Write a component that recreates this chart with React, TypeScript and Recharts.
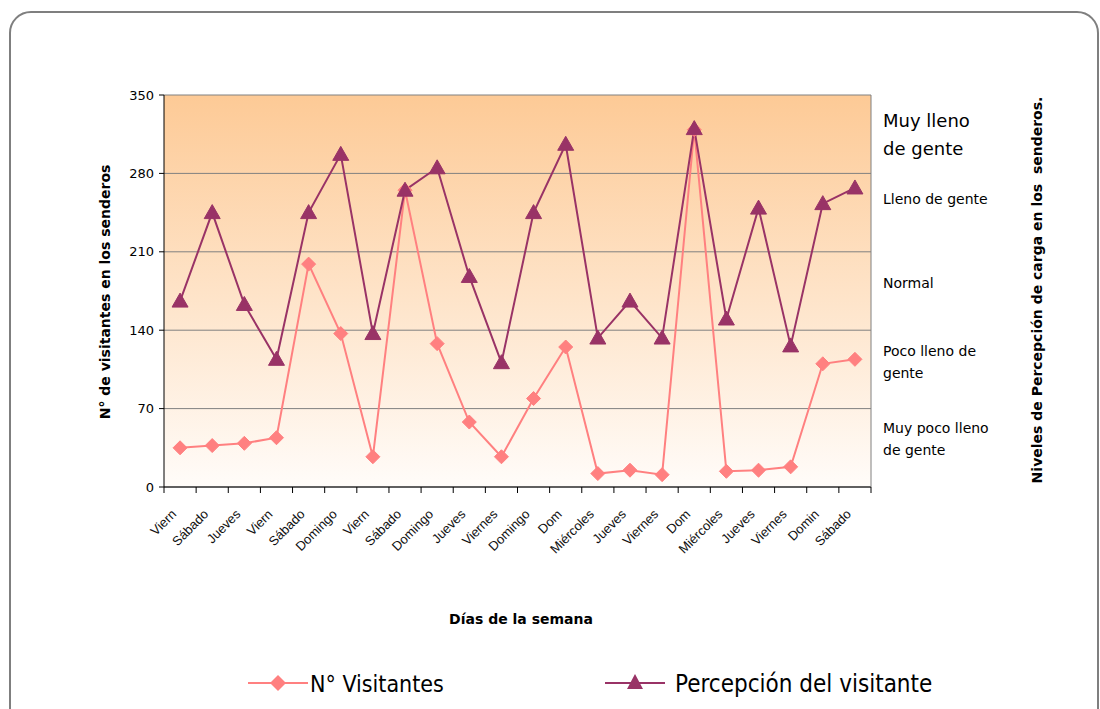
import React from "react";
import { LineChart, Line, XAxis, YAxis, CartesianGrid } from "recharts";

// días (etiquetas tal como se ven en el gráfico)
const dias = [
  "Viern", "Sábado", "Jueves", "Viern", "Sábado", "Domingo", "Viern", "Sábado",
  "Domingo", "Jueves", "Viernes", "Domingo", "Dom", "Miércoles", "Jueves", "Viernes",
  "Dom", "Miércoles", "Jueves", "Viernes", "Domin", "Sábado",
];
const visitantes = [35, 37, 39, 44, 199, 137, 27, 265, 128, 58, 27, 79, 125, 12, 15, 11, 319, 14, 15, 18, 110, 114];
const percepcion = [166, 245, 163, 114, 245, 297, 137, 265, 285, 188, 111, 245, 306, 133, 166, 133, 320, 150, 249, 126, 253, 267];

const ticksVisitantes = [0, 70, 140, 210, 280, 350];
const nivelesValores = [315, 257, 182, 112, 43];
const nivelesTexto = [
  ["Muy lleno", "de gente"],
  ["Lleno de gente"],
  ["Normal"],
  ["Poco lleno de", "gente"],
  ["Muy poco lleno", "de gente"],
];

const data = dias.map((dia, i) => ({ dia, visitantes: visitantes[i], percepcion: percepcion[i] }));

const ROSA = "#FF8080";
const GRANATE = "#993366";
const FONT = "'DejaVu Sans', Verdana, sans-serif";

const W = 1100;
const H = 709;
const MARGIN = { top: 95, right: 79, bottom: 162, left: 104 };
const Y_IZQ_W = 60;
const Y_DER_W = 150;
const PLOT_W = W - MARGIN.left - MARGIN.right - Y_IZQ_W - Y_DER_W;
const PASO = PLOT_W / dias.length;

const Diamante = (props: any) => {
  const { cx, cy } = props;
  if (cx == null || cy == null) return null;
  const r = 7;
  return <polygon points={`${cx},${cy - r} ${cx + r},${cy} ${cx},${cy + r} ${cx - r},${cy}`} fill={ROSA} stroke={ROSA} />;
};

const Triangulo = (props: any) => {
  const { cx, cy } = props;
  if (cx == null || cy == null) return null;
  return <polygon points={`${cx},${cy - 8} ${cx + 8},${cy + 6} ${cx - 8},${cy + 6}`} fill={GRANATE} stroke={GRANATE} />;
};

const TickDia = (props: any) => {
  const { x, y, payload, index } = props;
  const ejeY = y - 8;
  const ax = x - 3;
  const ay = y + 20;
  return (
    <g>
      <line x1={x - PASO / 2} x2={x - PASO / 2} y1={ejeY} y2={ejeY + 6} stroke="#000" />
      {index === dias.length - 1 && (
        <line x1={x + PASO / 2} x2={x + PASO / 2} y1={ejeY} y2={ejeY + 6} stroke="#000" />
      )}
      <text
        x={ax}
        y={ay}
        textAnchor="end"
        fontSize={13}
        fontFamily="'Liberation Sans', Arial, sans-serif"
        fill="#111"
        transform={`rotate(-45, ${ax}, ${ay})`}
      >
        {payload.value}
      </text>
    </g>
  );
};

const TickNivel = (props: any) => {
  const { x, y, index } = props;
  const lineas = nivelesTexto[index] || [];
  const grande = index === 0;
  const fs = grande ? 18 : 14;
  const lh = grande ? 28 : 22;
  const y0 = y - ((lineas.length - 1) * lh) / 2 + fs * 0.36;
  return (
    <text x={x} y={y0} textAnchor="start" fontSize={fs} fontFamily={FONT} fill="#000">
      {lineas.map((l, i) => (
        <tspan key={i} x={x} y={y0 + i * lh}>
          {l}
        </tspan>
      ))}
    </text>
  );
};

export default function App() {
  return (
    <div style={{ position: "fixed", left: 0, top: 0, width: W, height: H, overflow: "hidden", background: "#fff", fontFamily: FONT }}>
      <div
        style={{
          position: "absolute",
          left: 9,
          top: 11,
          width: 1086,
          height: 740,
          border: "2px solid #7f7f7f",
          borderRadius: 22,
        }}
      />
      <div style={{ position: "absolute", left: 0, top: 0 }}>
        <LineChart width={W} height={H} data={data} margin={MARGIN}>
          <defs>
            <linearGradient id="fondo" x1="0" y1="0" x2="0" y2="1">
              <stop offset="0%" stopColor="#FDCA96" />
              <stop offset="100%" stopColor="#FFFCF9" />
            </linearGradient>
          </defs>
          <CartesianGrid yAxisId="izq" vertical={false} stroke="#808080" fill="url(#fondo)" fillOpacity={1} />
          <XAxis
            dataKey="dia"
            interval={0}
            height={60}
            padding={{ left: PASO / 2, right: PASO / 2 }}
            axisLine={{ stroke: "#000" }}
            tickLine={false}
            tickSize={6}
            tickMargin={2}
            tick={<TickDia />}
          />
          <YAxis
            yAxisId="izq"
            width={Y_IZQ_W}
            domain={[0, 350]}
            ticks={ticksVisitantes}
            axisLine={{ stroke: "#000" }}
            tickLine={{ stroke: "#000" }}
            tickSize={5}
            tickMargin={5}
            tick={{ fontSize: 13, fill: "#000", fontFamily: FONT }}
          />
          <YAxis
            yAxisId="der"
            orientation="right"
            width={Y_DER_W}
            domain={[0, 350]}
            ticks={nivelesValores}
            axisLine={{ stroke: "#808080" }}
            tickLine={false}
            tickSize={0}
            tickMargin={12}
            tick={<TickNivel />}
          />
          <Line
            yAxisId="izq"
            dataKey="visitantes"
            stroke={ROSA}
            strokeWidth={2}
            dot={<Diamante />}
            activeDot={false}
            isAnimationActive={false}
          />
          <Line
            yAxisId="der"
            dataKey="percepcion"
            stroke={GRANATE}
            strokeWidth={2}
            dot={<Triangulo />}
            activeDot={false}
            isAnimationActive={false}
          />
        </LineChart>
      </div>
      <div
        style={{
          position: "absolute",
          left: 105,
          top: 292,
          transform: "translate(-50%, -50%) rotate(-90deg)",
          whiteSpace: "nowrap",
          fontWeight: "bold",
          fontSize: 14,
        }}
      >
        N° de visitantes en los senderos
      </div>
      <div
        style={{
          position: "absolute",
          left: 1037,
          top: 290,
          transform: "translate(-50%, -50%) rotate(-90deg)",
          whiteSpace: "pre",
          fontWeight: "bold",
          fontSize: 14,
        }}
      >
        {"Niveles de Percepción de carga en los  senderos."}
      </div>
      <div
        style={{
          position: "absolute",
          left: 521,
          top: 619,
          transform: "translate(-50%, -50%)",
          whiteSpace: "nowrap",
          fontWeight: "bold",
          fontSize: 14,
        }}
      >
        Días de la semana
      </div>
      <svg style={{ position: "absolute", left: 0, top: 660 }} width={W} height={46}>
        <line x1={248} x2={308} y1={23} y2={23} stroke={ROSA} strokeWidth={2} />
        <polygon points="278,15 286,23 278,31 270,23" fill={ROSA} />
        <text x={310} y={32} fontSize={23} fontFamily="'DejaVu Sans Condensed', 'DejaVu Sans', sans-serif" fontStretch="condensed">
          N° Visitantes
        </text>
        <line x1={605} x2={665} y1={23} y2={23} stroke={GRANATE} strokeWidth={2} />
        <polygon points="635,14 643,29 627,29" fill={GRANATE} />
        <text x={675} y={32} fontSize={24} fontFamily="'DejaVu Sans Condensed', 'DejaVu Sans', sans-serif" fontStretch="condensed">
          Percepción del visitante
        </text>
      </svg>
    </div>
  );
}
